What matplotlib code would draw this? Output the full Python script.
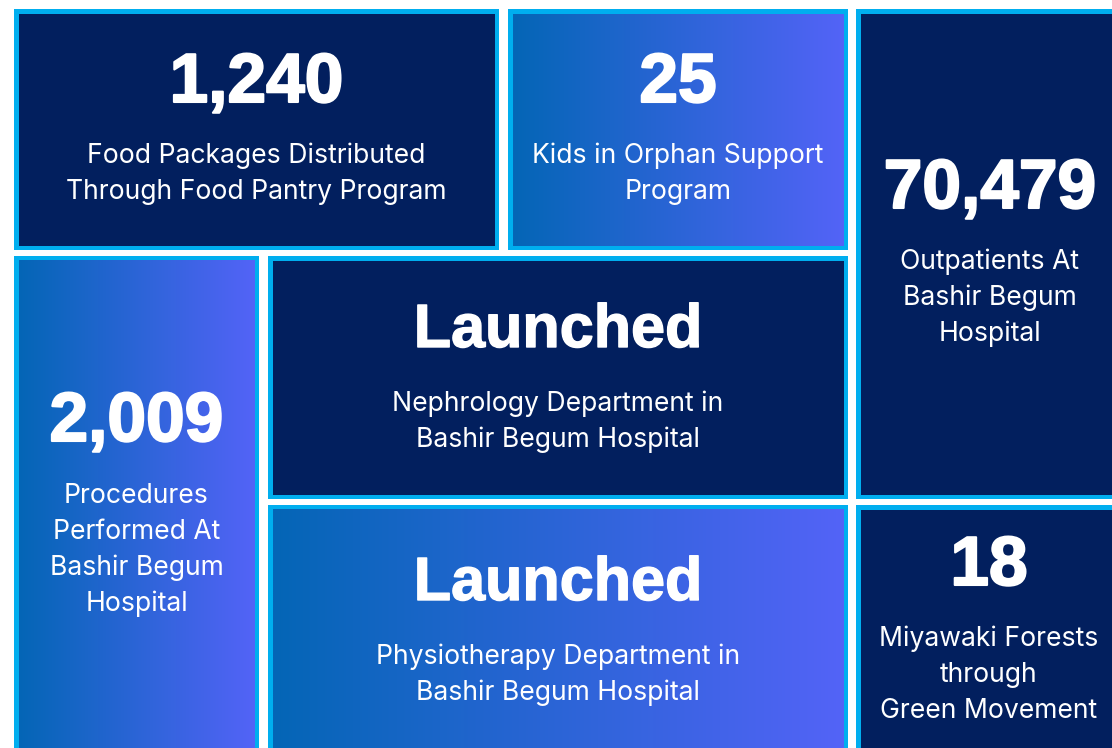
import numpy as np
import matplotlib
matplotlib.use("Agg")
from matplotlib import pyplot as plt
from matplotlib import patheffects
from matplotlib.patches import Rectangle
from matplotlib.colors import LinearSegmentedColormap

plt.rcParams["font.family"] = ["Inter", "DejaVu Sans"]

# tile contents
headlines = ["1,240", "25", "70,479", "2,009", "Launched", "Launched", "18"]
captions = [
    ["Food Packages Distributed", "Through Food Pantry Program"],
    ["Kids in Orphan Support", "Program"],
    ["Outpatients At", "Bashir Begum", "Hospital"],
    ["Procedures", "Performed At", "Bashir Begum", "Hospital"],
    ["Nephrology Department in", "Bashir Begum Hospital"],
    ["Physiotherapy Department in", "Bashir Begum Hospital"],
    ["Miyawaki Forests", "through", "Green Movement"],
]
gradient_fill = [False, True, False, True, False, True, False]

# layout in pixels: (x0, y0, x1, y1), headline baseline, first caption baseline
boxes = [
    (14, 9, 499, 250),
    (508, 9, 848, 250),
    (856, 9, 1124, 499),
    (14, 256, 259, 760),
    (268, 256, 848, 499),
    (268, 505, 848, 760),
    (856, 505, 1122, 760),
]
head_base = [102, 102, 208, 441, 347, 600, 585]
cap_base = [163, 163, 269, 503, 411, 664, 646]
line_gap = 36

NAVY = "#021f5e"
CYAN = "#00aeef"
grad = LinearSegmentedColormap.from_list("tile", ["#0466b6", "#5363f7"])

fig = plt.figure(figsize=(11.12, 7.48), dpi=100)
ax = fig.add_axes([0, 0, 1, 1])
ax.set_xlim(0, 1112)
ax.set_ylim(748, 0)
ax.axis("off")

bw = 4.5
for i, (x0, y0, x1, y1) in enumerate(boxes):
    ax.add_patch(Rectangle((x0, y0), x1 - x0, y1 - y0, color=CYAN, lw=0, zorder=1))
    ix0, iy0, ix1, iy1 = x0 + bw, y0 + bw, x1 - bw, y1 - bw
    if gradient_fill[i]:
        ramp = np.linspace(0, 1, 256).reshape(1, -1)
        ax.imshow(ramp, cmap=grad, extent=(ix0, ix1, iy1, iy0), aspect="auto",
                  interpolation="bilinear", zorder=2)
    else:
        ax.add_patch(Rectangle((ix0, iy0), ix1 - ix0, iy1 - iy0, color=NAVY, lw=0, zorder=2))

    cx = (x0 + x1) / 2
    is_word = headlines[i].isalpha()
    # numbers are set a bit heavier than the words
    stroke = 1.0 if is_word else 1.5
    ax.text(cx, head_base[i], headlines[i], color="white",
            fontsize=44 if is_word else 50, fontweight="bold",
            family=["Liberation Sans", "DejaVu Sans"],
            ha="center", va="baseline", zorder=3,
            path_effects=[patheffects.withStroke(linewidth=stroke, foreground="white")])
    for k, line in enumerate(captions[i]):
        ax.text(cx, cap_base[i] + k * line_gap, line, color="white", fontsize=19.1,
                ha="center", va="baseline", zorder=3)

ax.set_xlim(0, 1112)
ax.set_ylim(748, 0)
fig.savefig("out.png", dpi=100, facecolor="white")
